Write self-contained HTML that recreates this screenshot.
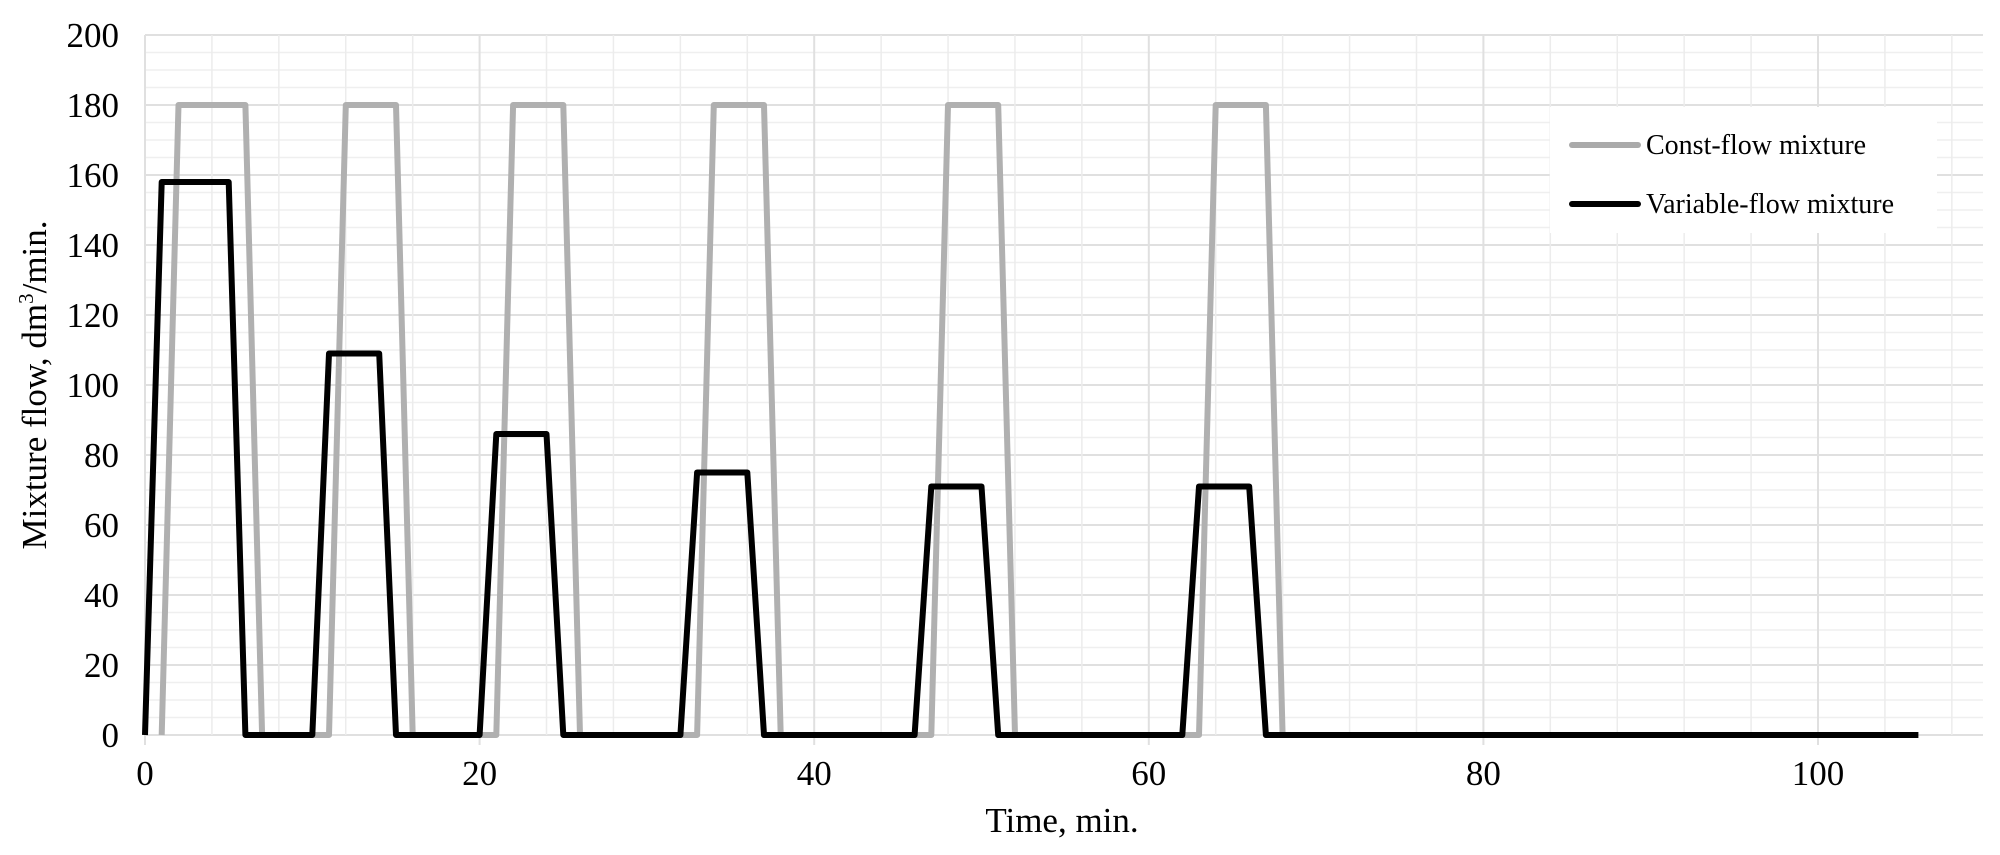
<!DOCTYPE html>
<html><head><meta charset="utf-8"><style>
html,body{margin:0;padding:0;background:#fff;}
svg{display:block;font-family:"Liberation Serif",serif;}
</style></head><body>
<svg width="2000" height="855" viewBox="0 0 2000 855" xmlns="http://www.w3.org/2000/svg">
<g id="grid"></g>
<g id="lines"></g>
<g id="labels" font-size="35" fill="#000"></g>
<text x="1062" y="832" font-size="35" text-anchor="middle">Time, min.</text>
<text transform="translate(46,385) rotate(-90)" font-size="35" text-anchor="middle">Mixture flow, dm<tspan font-size="21" dy="-13">3</tspan><tspan dy="13">/min.</tspan></text>
<rect x="1550" y="107" width="387" height="126" fill="#fff"/>
<line x1="1572" y1="145" x2="1638" y2="145" stroke="#aaa" stroke-width="6" stroke-linecap="round"/>
<line x1="1572" y1="204" x2="1638" y2="204" stroke="#000" stroke-width="6" stroke-linecap="round"/>
<text x="1646" y="154" font-size="28">Const-flow mixture</text>
<text x="1646" y="213" font-size="28">Variable-flow mixture</text>
</svg>
<script>
var X=function(v){return 145+v*16.73;},Y=function(v){return 735-v*3.5;};
var ns="http://www.w3.org/2000/svg",g=document.getElementById('grid'),L=document.getElementById('lines'),lb=document.getElementById('labels');
function el(p,t,a){var e=document.createElementNS(ns,t);for(var k in a)e.setAttribute(k,a[k]);p.appendChild(e);return e;}
for(var v=0;v<=200;v+=5){el(g,'line',{x1:145,x2:1983,y1:Y(v),y2:Y(v),stroke:v%20==0?'#e0e0e0':'#efefef','stroke-width':v%20==0?2:1.5});}
for(var v=0;v<=110;v+=4){el(g,'line',{x1:X(v),x2:X(v),y1:35,y2:735,stroke:'#ececec','stroke-width':1.5});}
for(var v=0;v<=100;v+=20){el(g,'line',{x1:X(v),x2:X(v),y1:35,y2:745,stroke:'#e0e0e0','stroke-width':2});}
for(var v=0;v<=200;v+=20){var t=el(lb,'text',{x:119,y:Y(v)+12,'text-anchor':'end'});t.textContent=v;}
for(var v=0;v<=100;v+=20){var t=el(lb,'text',{x:X(v),y:785,'text-anchor':'middle'});t.textContent=v;}
var c=[[1,0],[2,180],[6,180],[7,0],[11,0],[12,180],[15,180],[16,0],[21,0],[22,180],[25,180],[26,0],[33,0],[34,180],[37,180],[38,0],[47,0],[48,180],[51,180],[52,0],[63,0],[64,180],[67,180],[68,0]];
var b=[[0,0],[1,158],[5,158],[6,0],[10,0],[11,109],[14,109],[15,0],[20,0],[21,86],[24,86],[25,0],[32,0],[33,75],[36,75],[37,0],[46,0],[47,71],[50,71],[51,0],[62,0],[63,71],[66,71],[67,0],[106,0]];
function pts(a){return a.map(function(p){return X(p[0]).toFixed(1)+','+Y(p[1]).toFixed(1);}).join(' ');}
el(L,'polyline',{points:pts(c),fill:'none',stroke:'#b0b0b0','stroke-width':6,'stroke-linejoin':'round'});
el(L,'polyline',{points:pts(b),fill:'none',stroke:'#000','stroke-width':6,'stroke-linejoin':'round'});
</script>
</body></html>
